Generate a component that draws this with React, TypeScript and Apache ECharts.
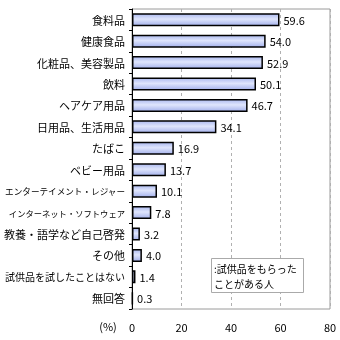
import React, { useEffect, useRef } from "react";
import * as echarts from "echarts";

const categories = [
  "食料品",
  "健康食品",
  "化粧品、美容製品",
  "飲料",
  "ヘアケア用品",
  "日用品、生活用品",
  "たばこ",
  "ベビー用品",
  "エンターテイメント・レジャー",
  "インターネット・ソフトウェア",
  "教養・語学など自己啓発",
  "その他",
  "試供品を試したことはない",
  "無回答",
];
const values = [59.6, 54.0, 52.9, 50.1, 46.7, 34.1, 16.9, 13.7, 10.1, 7.8, 3.2, 4.0, 1.4, 0.3];
const xTicks = [0, 20, 40, 60, 80];
const seriesName = ":試供品をもらった\nことがある人";
const unitLabel = "(%)";

const labelSizes: Record<string, number> = {
  "エンターテイメント・レジャー": 8.6,
  "インターネット・ソフトウェア": 8.3,
  "試供品を試したことはない": 10,
};

export default function App() {
  const ref = useRef<HTMLDivElement>(null);
  useEffect(() => {
    if (!ref.current) return;
    const chart = echarts.init(ref.current, undefined, { renderer: "svg" });
    const font = "'MS UI Gothic', 'Noto Sans CJK JP', sans-serif";
    chart.setOption({
      animation: false,
      textStyle: { fontFamily: font },
      grid: {
        left: 132,
        right: 10,
        top: 9,
        bottom: 31,
        show: true,
        borderColor: "#9a9a9a",
        borderWidth: 1,
        backgroundColor: "transparent",
      },
      xAxis: {
        type: "value",
        min: xTicks[0],
        max: xTicks[xTicks.length - 1],
        interval: 20,
        axisLine: { show: false },
        axisTick: { show: false },
        axisLabel: { color: "#000", fontSize: 11, margin: 12, fontFamily: font },
        splitLine: { show: true, lineStyle: { color: "#b0b0b0", type: [3, 3], width: 1 } },
      },
      yAxis: {
        type: "category",
        inverse: true,
        data: categories.map((c) =>
          labelSizes[c] ? { value: c, textStyle: { fontSize: labelSizes[c] } } : c
        ),
        axisLine: { show: true, lineStyle: { color: "#000", width: 1 } },
        axisTick: { show: true, length: 3, lineStyle: { color: "#000" } },
        axisLabel: { color: "#000", fontSize: 11, margin: 7, fontFamily: font },
        splitLine: { show: false },
      },
      series: [
        {
          type: "bar",
          name: seriesName,
          data: values,
          barWidth: 13,
          itemStyle: {
            color: new echarts.graphic.LinearGradient(0, 0, 0, 1, [
              { offset: 0, color: "#aebbf0" },
              { offset: 0.45, color: "#dfe5fc" },
              { offset: 1, color: "#a6b3ec" },
            ]),
            borderColor: "#000",
            borderWidth: 1.5,
          },
          label: {
            show: true,
            position: "right",
            distance: 4,
            color: "#000",
            fontSize: 11,
            fontFamily: font,
            formatter: (p: any) => Number(p.value).toFixed(1),
          },
        },
      ],
      graphic: [
        {
          type: "text",
          x: 108,
          y: 326,
          style: {
            text: unitLabel,
            fill: "#000",
            fontSize: 11,
            fontFamily: font,
            textAlign: "center",
            textVerticalAlign: "middle",
          },
        },
        {
          type: "rect",
          shape: { x: 211.5, y: 258.5, width: 92, height: 34 },
          style: { fill: "#fff", stroke: "#aaaaaa", lineWidth: 1 },
          z: 10,
        },
        {
          type: "text",
          x: 214,
          y: 261,
          z: 11,
          style: {
            text: seriesName,
            fill: "#000",
            fontSize: 10,
            lineHeight: 15,
            fontFamily: font,
          },
        },
      ],
    });
    return () => chart.dispose();
  }, []);
  return (
    <div
      ref={ref}
      style={{ position: "fixed", left: 0, top: 0, width: 340, height: 340 }}
    />
  );
}
